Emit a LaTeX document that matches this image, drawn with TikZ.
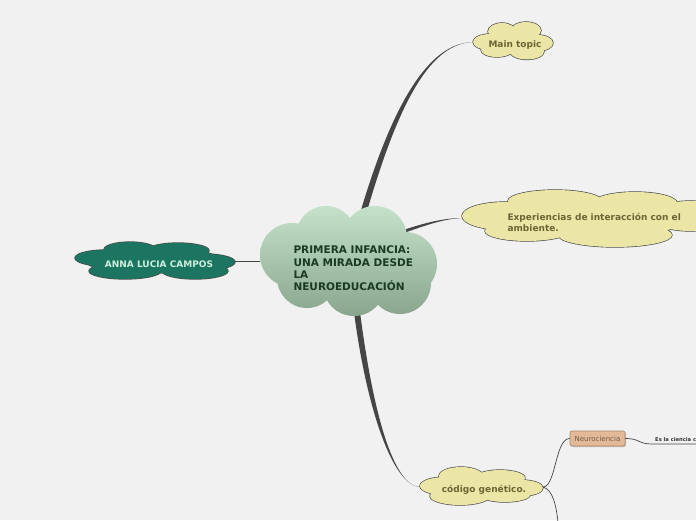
\documentclass[tikz,border=0pt]{standalone}
\usepackage{fontspec}
\setmainfont{DejaVu Sans}
\usetikzlibrary{calc}
\definecolor{bg}{HTML}{F1F1F1}
\definecolor{linec}{HTML}{454545}
\definecolor{cloudline}{HTML}{4A4A4A}
\definecolor{yel}{HTML}{EBE6A6}
\definecolor{yeltext}{HTML}{6B6535}
\definecolor{teal}{HTML}{1B7560}
\definecolor{tealtext}{HTML}{CDEEDD}
\definecolor{gtop}{HTML}{C6E4CC}
\definecolor{gbot}{HTML}{88A48C}
\definecolor{ctext}{HTML}{1A3A22}
\definecolor{neufill}{HTML}{E3B998}
\definecolor{neuline}{HTML}{A8876A}
\definecolor{neutext}{HTML}{6E5A4A}
\newcommand\mmcloud[2]{\filldraw[draw=cloudline, line width=1.3pt, fill=#1] #2; \fill[#1] #2;}
\tikzset{
  yellabel/.style={text=yeltext, font=\bfseries\fontsize{9}{11}\selectfont, align=left},
  conn/.style={draw=linec, line width=0.8pt},
  taper/.style={fill=linec},
}
\begin{document}
\begin{tikzpicture}[x=1pt,y=-1pt]
\fill[bg] (0,0) rectangle (696,520);
\useasboundingbox (0,0) rectangle (696,520);
\clip (0,0) rectangle (696,520);

% connector end points
\coordinate (cN) at (363,214);
\coordinate (cE) at (405,231);
\coordinate (cS) at (357,312);
\coordinate (cW) at (265,261);
\coordinate (mtL) at (474,42);
\coordinate (exL) at (463,218);
\coordinate (cgL) at (421,487);
\coordinate (cgR) at (543,487);
\coordinate (anR) at (233,261);

% center -> Main topic (tapered)
\fill[taper] ($(cN)+(-3.2,0)$) .. controls (395,95) and (432,42) .. (mtL)
  .. controls (432,42.6) and (400,97) .. ($(cN)+(3.2,0)$) -- cycle;
% center -> Experiencias
\fill[taper] ($(cE)+(0,-1.6)$) .. controls (428,222) and (445,218) .. (exL)
  .. controls (445,218.6) and (428,224.5) .. ($(cE)+(0,1.6)$) -- cycle;
% center -> código genético
\fill[taper] ($(cS)+(-3,0)$) .. controls (366,405) and (392,487) .. (cgL)
  .. controls (392,487.6) and (372,405) .. ($(cS)+(3,0)$) -- cycle;
% center -> Anna
\draw[conn] (cW) -- (anR);

% central cloud (union of circles, vertical gradient)
\begin{scope}
\clip (326,236) circle[radius=30] (375,238) circle[radius=32] (292,255) circle[radius=32]
      (405,264) circle[radius=32] (307,278) circle[radius=30] (354,285) circle[radius=31]
      (400,283) circle[radius=31] (350,262) circle[radius=42];
\shade[top color=gtop, bottom color=gbot] (255,203) rectangle (440,318);
\end{scope}
\node[text=ctext, font=\bfseries\fontsize{10.5}{12.4}\selectfont, align=left, anchor=west]
  (center) at (290,268.5) {PRIMERA INFANCIA:\\UNA MIRADA DESDE\\LA\\NEUROEDUCACIÓN};

% Anna cloud
\mmcloud{teal}{(105,258) ellipse[x radius=30,y radius=8] (130,249.5) ellipse[x radius=26,y radius=7.5]
  (178,250.5) ellipse[x radius=31,y radius=7.5] (205,262) ellipse[x radius=30,y radius=8]
  (125,271) ellipse[x radius=36,y radius=8] (195,271) ellipse[x radius=33,y radius=8]
  (155,261) ellipse[x radius=70,y radius=12]}
\node[text=tealtext, font=\bfseries\fontsize{9}{10}\selectfont] (anna) at (159,264) {ANNA LUCIA CAMPOS};

% Main topic cloud
\mmcloud{yel}{(490,42) ellipse[x radius=17,y radius=8] (502,31.5) ellipse[x radius=14,y radius=8.5]
  (526,30.5) ellipse[x radius=15,y radius=8.5] (538,43) ellipse[x radius=15,y radius=8]
  (497,50) ellipse[x radius=16,y radius=7] (527,51.5) ellipse[x radius=17,y radius=8]
  (513,42) ellipse[x radius=26,y radius=12]}
\node[yellabel] (main) at (515,45) {Main topic};

% Experiencias cloud
\mmcloud{yel}{(505,216) ellipse[x radius=43,y radius=14] (555,201) ellipse[x radius=47,y radius=11]
  (635,203) ellipse[x radius=42,y radius=11] (690,216) ellipse[x radius=40,y radius=15]
  (527,231) ellipse[x radius=42,y radius=10] (615,235) ellipse[x radius=57,y radius=12]
  (590,218) ellipse[x radius=100,y radius=19]}
\node[yellabel, anchor=west] (exp) at (504,222.5) {Experiencias de interacción con el\\ambiente.};

% código genético cloud
\mmcloud{yel}{(445,486) ellipse[x radius=25,y radius=9] (461,476) ellipse[x radius=22,y radius=9]
  (500,478) ellipse[x radius=25,y radius=8] (522,488) ellipse[x radius=21,y radius=8]
  (460,496) ellipse[x radius=30,y radius=9] (505,495) ellipse[x radius=25,y radius=7]
  (482,486) ellipse[x radius=45,y radius=12]}
\node[yellabel] (cg) at (484,489.5) {código genético.};

% Neurociencia
\node[fill=black!25, rounded corners=2pt, minimum width=55pt, minimum height=15pt, inner sep=0pt] at (598.5,439.5) {};
\node[fill=neufill, draw=neuline, line width=0.6pt, rounded corners=2pt, minimum width=55pt,
      minimum height=15pt, inner sep=0pt, text=neutext, font=\fontsize{7}{8}\selectfont] (neuro) at (597.5,438.5) {Neurociencia};

\coordinate (esL) at (652,444);
\coordinate (esR) at (700,444);
\draw[conn, line width=0.7pt] (cgR) .. controls (556,487) and (555,438.5) .. (neuro.west);
\draw[conn, line width=0.7pt] (cgR) .. controls (553,490) and (556,505) .. (558,522);
\draw[conn, line width=0.7pt] (neuro.east) .. controls (640,438.5) and (638,444) .. (esL) -- (esR);
\node[anchor=south west, inner sep=0pt, font=\bfseries\fontsize{5.2}{5.2}\selectfont, text=black!80] (es) at (655,441.5) {Es la ciencia c};
\end{tikzpicture}
\end{document}
